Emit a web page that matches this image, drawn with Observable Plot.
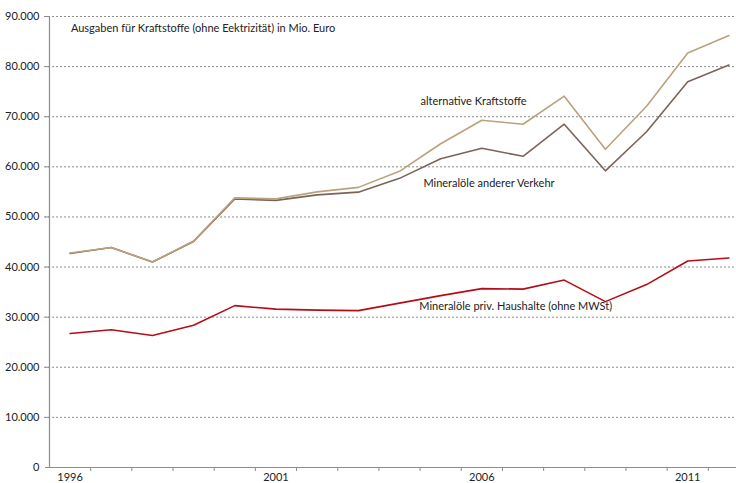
<!DOCTYPE html>
<html>
<head>
<meta charset="utf-8">
<script src="https://cdn.jsdelivr.net/npm/d3@7"></script>
<script src="https://cdn.jsdelivr.net/npm/@observablehq/plot@0.6"></script>
<style>
  html, body { margin: 0; padding: 0; background: #fff; }
  #chart svg { display: block; }
</style>
</head>
<body>
<div id="chart"></div>
<script>
const years = [1996,1997,1998,1999,2000,2001,2002,2003,2004,2005,2006,2007,2008,2009,2010,2011,2012];
const alternative = [42800,43900,41000,45200,53800,53600,55000,55900,59100,64600,69300,68500,74100,63500,72100,82700,86200];
const andererVerkehr = [42700,43900,41000,45100,53600,53300,54400,54950,57700,61600,63700,62100,68500,59200,67000,77000,80300];
const privHaushalte = [26750,27500,26350,28400,32300,31600,31400,31300,32800,34300,35700,35600,37400,33100,36500,41200,41800];
const yTicks = [0,10000,20000,30000,40000,50000,60000,70000,80000,90000];
const xLabelYears = [1996,2001,2006,2011];
const seriesNames = ["alternative Kraftstoffe","Mineralöle anderer Verkehr","Mineralöle priv. Haushalte (ohne MWSt)"];
const seriesColors = ["#baa27c","#7a645a","#b50d18"];
const title = "Ausgaben für Kraftstoffe (ohne Eektrizität) in Mio. Euro";
// annotation anchors in data units
const labelYears = [2004.51,2004.58,2004.48];
const labelValues = [73000,56700,32200];
const titleYear = 1996.02, titleValue = 87700;

const rows = [];
// draw order: private households, other traffic, then alternative fuels on top
[[privHaushalte, 2], [andererVerkehr, 1], [alternative, 0]].forEach(([arr, i]) => {
  arr.forEach((v, j) => rows.push({year: years[j], value: v, series: seriesNames[i]}));
});
const labels = seriesNames.map((s, i) => ({text: s, year: labelYears[i], value: labelValues[i]}));
const boundaries = d3.range(1996.5, 2012, 1);

const de = d3.formatLocale({decimal: ",", thousands: ".", grouping: [3], currency: ["", " €"]});
const fmt = de.format(",d");
const font = "Lato, 'Open Sans', sans-serif";

const chart = Plot.plot({
  width: 736,
  height: 483,
  marginLeft: 49,
  marginRight: 0,
  marginTop: 16,
  marginBottom: 16,
  style: {fontFamily: font, fontSize: "11px", color: "#222", background: "#fff"},
  x: {domain: [1995.5, 2012.5], range: [49, 749], axis: null},
  y: {domain: [0, 90000], axis: null},
  color: {domain: seriesNames, range: seriesColors},
  marks: [
    Plot.ruleY(yTicks.slice(1), {stroke: "#8c8c8c", strokeDasharray: "2,2", strokeWidth: 1, x1: 1995.5 - 0.12, x2: 2012.5}),
    Plot.axisY({ticks: yTicks, tickFormat: fmt, tickSize: 4, tickPadding: 6, stroke: "#8c8c8c", label: null, fontSize: 11, fill: "#222"}),
    Plot.axisX({ticks: boundaries, tickFormat: () => "", tickSize: 4, stroke: "#8c8c8c", label: null}),
    Plot.axisX({ticks: xLabelYears, tickFormat: d => String(d), tickSize: 0, tickPadding: 6, label: null, fontSize: 11, fill: "#222"}),
    Plot.ruleX([1995.5], {y1: 0, y2: 90000, stroke: "#8c8c8c", strokeWidth: 1.2}),
    Plot.ruleY([0], {x1: 1995.5, x2: 2012.5, stroke: "#8c8c8c", strokeWidth: 1.2}),
    Plot.line(rows, {x: "year", y: "value", z: "series", stroke: "series", strokeWidth: 1.6}),
    Plot.text(labels, {x: "year", y: "value", text: "text", textAnchor: "start", fontSize: 11, fill: "#222"}),
    Plot.text([title], {x: titleYear, y: titleValue, text: d => d, textAnchor: "start", fontSize: 11, fill: "#222"})
  ]
});
document.getElementById("chart").appendChild(chart);
</script>
</body>
</html>
